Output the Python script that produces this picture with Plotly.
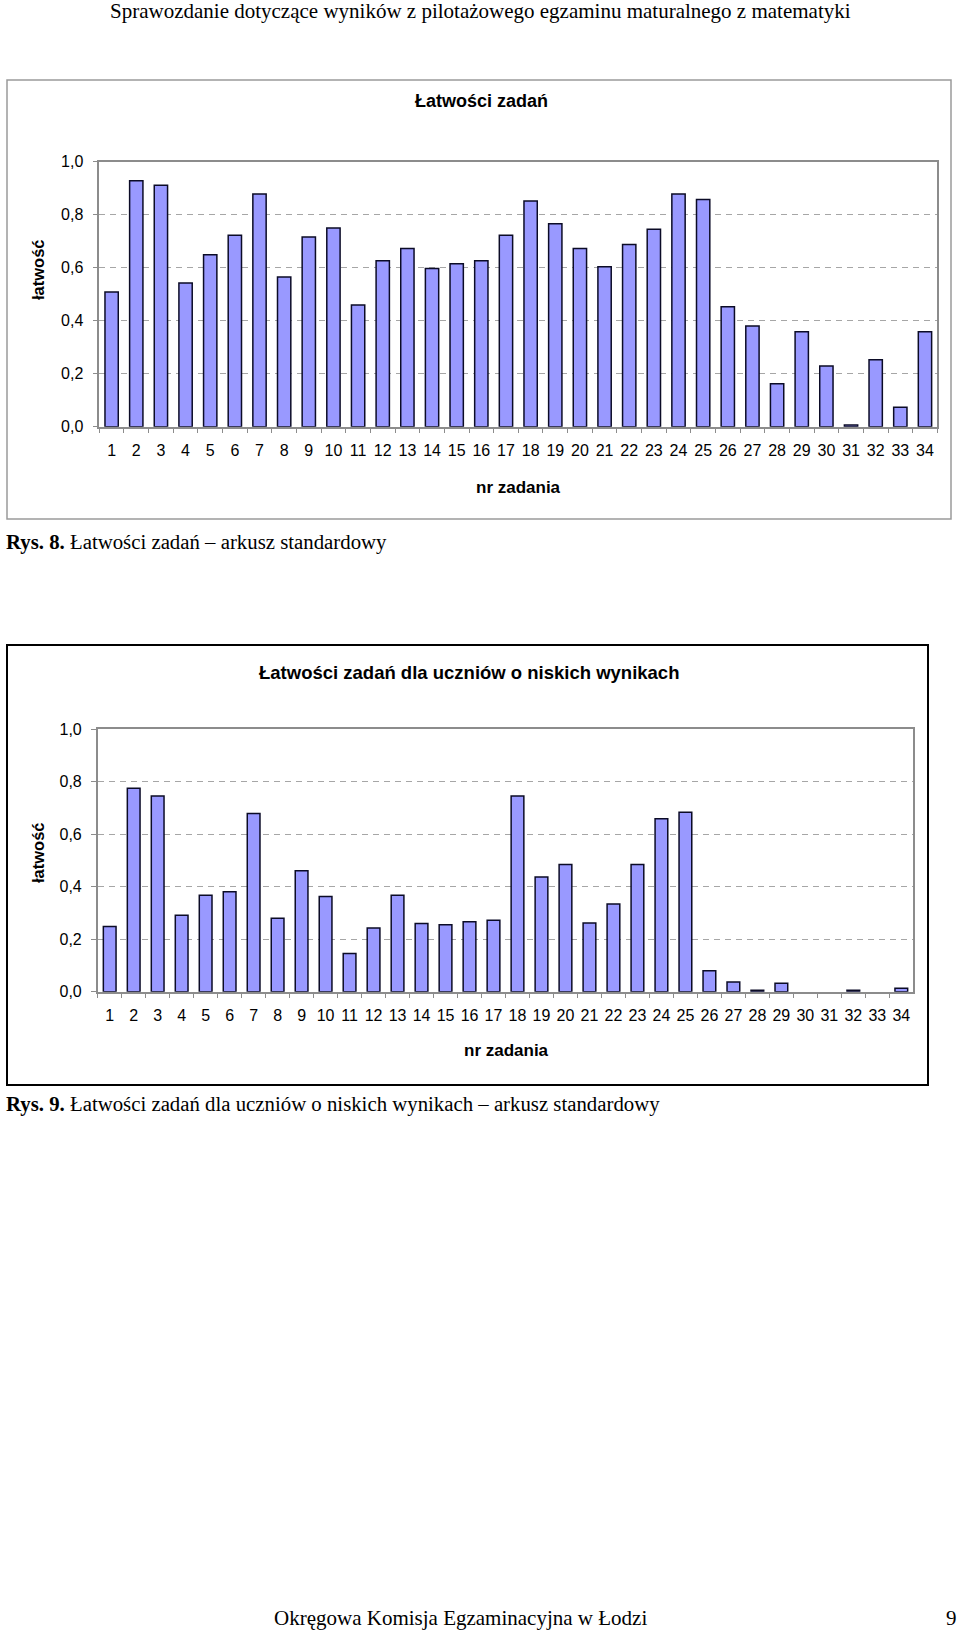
import plotly.graph_objects as go

# ---------------- data ----------------
tasks = [str(i) for i in range(1, 35)]
easiness_all = [0.508, 0.928, 0.911, 0.542, 0.649, 0.722, 0.878, 0.565, 0.716, 0.750,
                0.459, 0.626, 0.672, 0.597, 0.615, 0.626, 0.722, 0.852, 0.766, 0.672,
                0.604, 0.688, 0.745, 0.878, 0.857, 0.453, 0.380, 0.162, 0.358, 0.229,
                0.006, 0.253, 0.073, 0.358]
easiness_low = [0.248, 0.775, 0.746, 0.291, 0.368, 0.381, 0.679, 0.280, 0.461, 0.363,
                0.146, 0.243, 0.368, 0.260, 0.255, 0.267, 0.272, 0.746, 0.437, 0.485,
                0.262, 0.334, 0.485, 0.659, 0.684, 0.080, 0.037, 0.006, 0.032, None,
                None, 0.006, None, 0.013]
ytick_vals = [0.0, 0.2, 0.4, 0.6, 0.8, 1.0]
ytick_text = ["0,0", "0,2", "0,4", "0,6", "0,8", "1,0"]

header_text = "Sprawozdanie dotyczące wyników z pilotażowego egzaminu maturalnego z matematyki"
title1 = "Łatwości zadań"
title2 = "Łatwości zadań dla uczniów o niskich wynikach"
caption1 = "<b>Rys. 8.</b> Łatwości zadań – arkusz standardowy"
caption2 = "<b>Rys. 9.</b> Łatwości zadań dla uczniów o niskich wynikach – arkusz standardowy"
footer_text = "Okręgowa Komisja Egzaminacyjna w Łodzi"
page_no = "9"
x_title = "nr zadania"
y_title = "łatwość"

# ---------------- layout helpers ----------------
W, H = 960, 1631
def px(x):
    return x / W
def py(y):
    return 1 - y / H

SANS = "Liberation Sans, Arial, sans-serif"
SERIF = "Liberation Serif, Times New Roman, serif"
BAR_FILL = "#9999FF"
BAR_LINE = "#0b0b26"
AXIS_GRAY = "#8c8c8c"
GRID_GRAY = "#a6a6a6"

fig = go.Figure()
fig.add_trace(go.Bar(x=tasks, y=easiness_all, xaxis="x", yaxis="y",
                     marker=dict(color=BAR_FILL, line=dict(color=BAR_LINE, width=1.5)),
                     width=0.54, hoverinfo="x+y", showlegend=False))
fig.add_trace(go.Bar(x=tasks, y=easiness_low, xaxis="x2", yaxis="y2",
                     marker=dict(color=BAR_FILL, line=dict(color=BAR_LINE, width=1.5)),
                     width=0.53, hoverinfo="x+y", showlegend=False))

def xaxis_cfg(domain, anchor):
    return dict(domain=domain, anchor=anchor, type="category", categoryorder="array",
                categoryarray=tasks, showline=True, mirror=True, linecolor=AXIS_GRAY,
                linewidth=1.5, ticks="outside", tickson="boundaries", ticklen=5,
                tickcolor=AXIS_GRAY, tickwidth=1, showgrid=False, zeroline=False,
                tickangle=0, automargin=False,
                tickfont=dict(family=SANS, size=16, color="black"),
                ticklabelstandoff=8, fixedrange=True)

def yaxis_cfg(domain, anchor):
    return dict(domain=domain, anchor=anchor, range=[0, 1.0], tickvals=ytick_vals,
                ticktext=ytick_text, showline=True, mirror=True, linecolor=AXIS_GRAY,
                linewidth=1.5, ticks="outside", ticklen=5, tickcolor=AXIS_GRAY,
                showgrid=True, gridcolor=GRID_GRAY, griddash="6px,5px", gridwidth=1,
                zeroline=False, automargin=False,
                tickfont=dict(family=SANS, size=16, color="black"),
                ticklabelstandoff=6, fixedrange=True)

fig.update_layout(
    width=W, height=H, margin=dict(l=0, r=0, t=0, b=0, pad=0, autoexpand=False),
    paper_bgcolor="white", plot_bgcolor="white",
    bargap=0.46,
    xaxis=xaxis_cfg([px(99.3), px(937.3)], "y"),
    yaxis=yaxis_cfg([py(426.7), py(161.7)], "x"),
    xaxis2=xaxis_cfg([px(97.7), px(913.3)], "y2"),
    yaxis2=yaxis_cfg([py(991.7), py(729.3)], "x2"),
)

# frames around the charts
fig.add_shape(type="rect", xref="paper", yref="paper",
              x0=px(7), x1=px(951), y0=py(519), y1=py(80),
              line=dict(color="#9a9a9a", width=1.5), layer="below")
fig.add_shape(type="rect", xref="paper", yref="paper",
              x0=px(7), x1=px(928), y0=py(1085), y1=py(645),
              line=dict(color="black", width=2), layer="below")

def ann(text, x, y, size, family, bold=False, xanchor="center", angle=0):
    fig.add_annotation(text=f"<b>{text}</b>" if bold else text,
                       xref="paper", yref="paper", x=px(x), y=py(y),
                       xanchor=xanchor, yanchor="middle", showarrow=False,
                       textangle=angle,
                       font=dict(family=family, size=size, color="black"))

ann(header_text, 480, 11, 21, SERIF)
ann(title1, 481, 101, 18, SANS, bold=True)
ann(x_title, 518, 487, 17, SANS, bold=True)
ann(y_title, 38, 270, 16.5, SANS, bold=True, angle=-90)
ann(caption1, 4, 542, 20.8, SERIF, xanchor="left")

ann(title2, 469, 672, 18.5, SANS, bold=True)
ann(x_title, 506, 1050, 17, SANS, bold=True)
ann(y_title, 38, 853, 16.5, SANS, bold=True, angle=-90)
ann(caption2, 4, 1104, 20.8, SERIF, xanchor="left")

ann(footer_text, 272, 1618, 21, SERIF, xanchor="left")
ann(page_no, 951, 1618, 21, SERIF, xanchor="center")

page_css = (
    "document.documentElement.style.margin='0px';"
    "document.documentElement.style.padding='0px';"
    "document.documentElement.style.overflow='hidden';"
    "document.body.style.margin='0px';"
    "document.body.style.padding='0px';"
    "document.body.style.overflow='hidden';"
    "var gd=document.getElementsByClassName('plotly-graph-div')[0];"
    "gd.style.position='absolute';gd.style.top='0px';gd.style.left='0px';"
)

fig.write_html("out.html", config={"displayModeBar": False}, post_script=page_css)
